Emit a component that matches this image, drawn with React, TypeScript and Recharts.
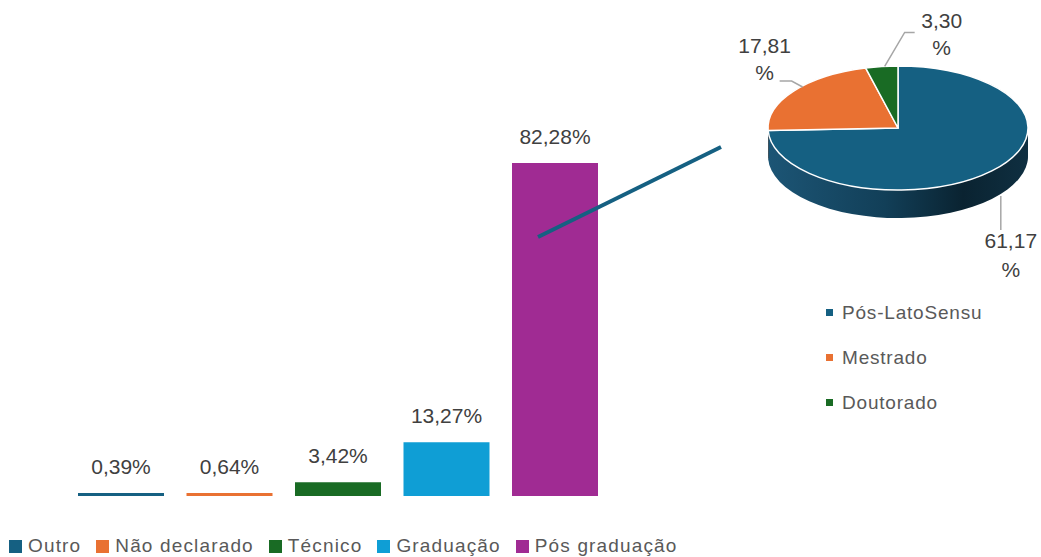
import React from 'react';
import { BarChart, Bar, XAxis, YAxis, Cell, LabelList, Legend, PieChart, Pie } from 'recharts';

// ---- data ----
const categories = ['Outro', 'Não declarado', 'Técnico', 'Graduação', 'Pós graduação'];
const shares = [0.39, 0.64, 3.42, 13.27, 82.28];
const barColors = ['#156082', '#E97132', '#196B24', '#0F9ED5', '#A02B93'];

const posTypes = ['Pós-LatoSensu', 'Mestrado', 'Doutorado'];
const posShares = [61.17, 17.81, 3.3];
const pieColors = ['#156082', '#E97132', '#196B24'];
const pieSideColors = ['url(#pieSideBlue)', '#9c4a1c', '#0f4516'];

const barData = categories.map((name, i) => ({ name, value: shares[i] }));
const pieData = posTypes.map((name, i) => ({ name, value: posShares[i] }));

// ---- layout constants ----
const FONT = '"Liberation Sans", Arial, sans-serif';
const PIE_CX = 898;
const PIE_CY = 128;
const PIE_R = 130;
const SY = 0.477;
const DEPTH = 28;
const sideOffsets = Array.from({ length: 15 }, (_, i) => DEPTH - 2 * i);

const fmt = (v: number) => v.toFixed(2).replace('.', ',');

const css = `
.pie3d .recharts-pie-sector { transform: translate(0px, ${PIE_CY}px) scale(1, ${SY}) translate(0px, -${PIE_CY}px); }
.pie3d .recharts-pie-sector path { vector-effect: non-scaling-stroke; }
`;

const renderPieLabel = (p: any) => {
  const { midAngle, index, value } = p;
  const a = (-midAngle * Math.PI) / 180;
  const ax = PIE_CX + PIE_R * Math.cos(a);
  const ay = PIE_CY + PIE_R * SY * Math.sin(a);
  let pts: number[][];
  let tx: number;
  let ty: number;
  let gap = 27;
  if (index === 0) {
    pts = [[ax + 9, ay + 25], [ax + 9, ay + 59]];
    tx = ax + 19;
    ty = ay + 70;
    gap = 29;
  } else if (index === 1) {
    pts = [[ax + 9, ay - 4], [ax - 2, ay - 10], [ax - 14, ay - 10]];
    tx = ax - 29;
    ty = ay - 46;
  } else {
    pts = [[ax + 3, ay], [ax + 23, ay - 34], [ax + 33, ay - 34]];
    tx = ax + 60;
    ty = ay - 46;
  }
  return (
    <g key={`pl-${index}`}>
      <polyline points={pts.map((q) => q.join(',')).join(' ')} fill="none" stroke="#a6a6a6" strokeWidth={1.5} />
      <text x={tx} y={ty} textAnchor="middle" dominantBaseline="central" fill="#404040" fontSize={21} fontFamily={FONT}>
        {fmt(value)}
      </text>
      <text x={tx} y={ty + gap} textAnchor="middle" dominantBaseline="central" fill="#404040" fontSize={21} fontFamily={FONT}>
        %
      </text>
    </g>
  );
};

const BarLegend = () => (
  <div
    style={{
      display: 'flex',
      alignItems: 'center',
      fontFamily: FONT,
      fontSize: 19,
      letterSpacing: 1.15,
      color: '#595959',
      whiteSpace: 'nowrap',
      lineHeight: '22px',
    }}
  >
    {categories.map((c, i) => (
      <div key={c} style={{ display: 'flex', alignItems: 'center', marginRight: 15 }}>
        <span style={{ width: 13, height: 13, background: barColors[i], marginRight: 6, display: 'inline-block' }} />
        <span>{c}</span>
      </div>
    ))}
  </div>
);

const PieLegend = () => (
  <div
    style={{
      display: 'flex',
      flexDirection: 'column',
      fontFamily: FONT,
      fontSize: 19,
      letterSpacing: 0.8,
      color: '#595959',
      whiteSpace: 'nowrap',
    }}
  >
    {posTypes.map((t, i) => (
      <div key={t} style={{ display: 'flex', alignItems: 'center', height: 45 }}>
        <span style={{ width: 7, height: 7, background: pieColors[i], marginRight: 9, display: 'inline-block' }} />
        <span>{t}</span>
      </div>
    ))}
  </div>
);

export default function App() {
  return (
    <div style={{ position: 'absolute', left: 0, top: 0, width: 1041, height: 557, background: '#fff', overflow: 'hidden' }}>
      <style>{css}</style>
      <div style={{ position: 'absolute', left: 0, top: 0 }}>
        <BarChart width={640} height={557} data={barData} margin={{ top: 131.8, right: 30.5, bottom: 61, left: 67 }}>
          <XAxis dataKey="name" hide />
          <YAxis hide domain={[0, 90]} />
          <Bar dataKey="value" barSize={86} minPointSize={3} isAnimationActive={false}>
            {barData.map((d, i) => (
              <Cell key={d.name} fill={barColors[i]} />
            ))}
            <LabelList
              dataKey="value"
              position="top"
              offset={19}
              formatter={(v: any) => `${fmt(Number(v))}%`}
              fill="#404040"
              fontSize={21}
              fontFamily={FONT}
            />
          </Bar>
          <Legend
            layout="horizontal"
            verticalAlign="middle"
            align="center"
            content={<BarLegend />}
            wrapperStyle={{ left: 9, top: 535, width: 'auto' }}
          />
        </BarChart>
      </div>
      <svg style={{ position: 'absolute', left: 0, top: 0 }} width={1041} height={557}>
        <line x1={538} y1={237} x2={721} y2={147} stroke="#156082" strokeWidth={4} />
      </svg>
      <div className="pie3d" style={{ position: 'absolute', left: 0, top: 0 }}>
        <PieChart width={1041} height={557} margin={{ top: 0, right: 0, bottom: 0, left: 0 }}>
          <defs>
            <linearGradient id="pieSideBlue" x1={PIE_CX - PIE_R} y1={0} x2={PIE_CX + PIE_R} y2={0} gradientUnits="userSpaceOnUse">
              <stop offset="0%" stopColor="#1c5575" />
              <stop offset="45%" stopColor="#123f58" />
              <stop offset="75%" stopColor="#0a2331" />
              <stop offset="100%" stopColor="#0f2f41" />
            </linearGradient>
          </defs>
          {sideOffsets.map((k) => (
            <Pie
              key={`side-${k}`}
              data={pieData}
              dataKey="value"
              cx={PIE_CX}
              cy={PIE_CY + k / SY}
              outerRadius={PIE_R}
              startAngle={90}
              endAngle={-270}
              stroke="none"
              label={false}
              labelLine={false}
              legendType="none"
              isAnimationActive={false}
            >
              {pieData.map((d, i) => (
                <Cell key={d.name} fill={pieSideColors[i]} />
              ))}
            </Pie>
          ))}
          <Pie
            data={pieData}
            dataKey="value"
            cx={PIE_CX}
            cy={PIE_CY}
            outerRadius={PIE_R}
            startAngle={90}
            endAngle={-270}
            stroke="#ffffff"
            strokeWidth={1.5}
            label={renderPieLabel}
            labelLine={false}
            isAnimationActive={false}
          >
            {pieData.map((d, i) => (
              <Cell key={d.name} fill={pieColors[i]} />
            ))}
          </Pie>
          <Legend
            layout="horizontal"
            verticalAlign="middle"
            align="center"
            content={<PieLegend />}
            wrapperStyle={{ left: 826, top: 290, width: 'auto' }}
          />
        </PieChart>
      </div>
    </div>
  );
}
